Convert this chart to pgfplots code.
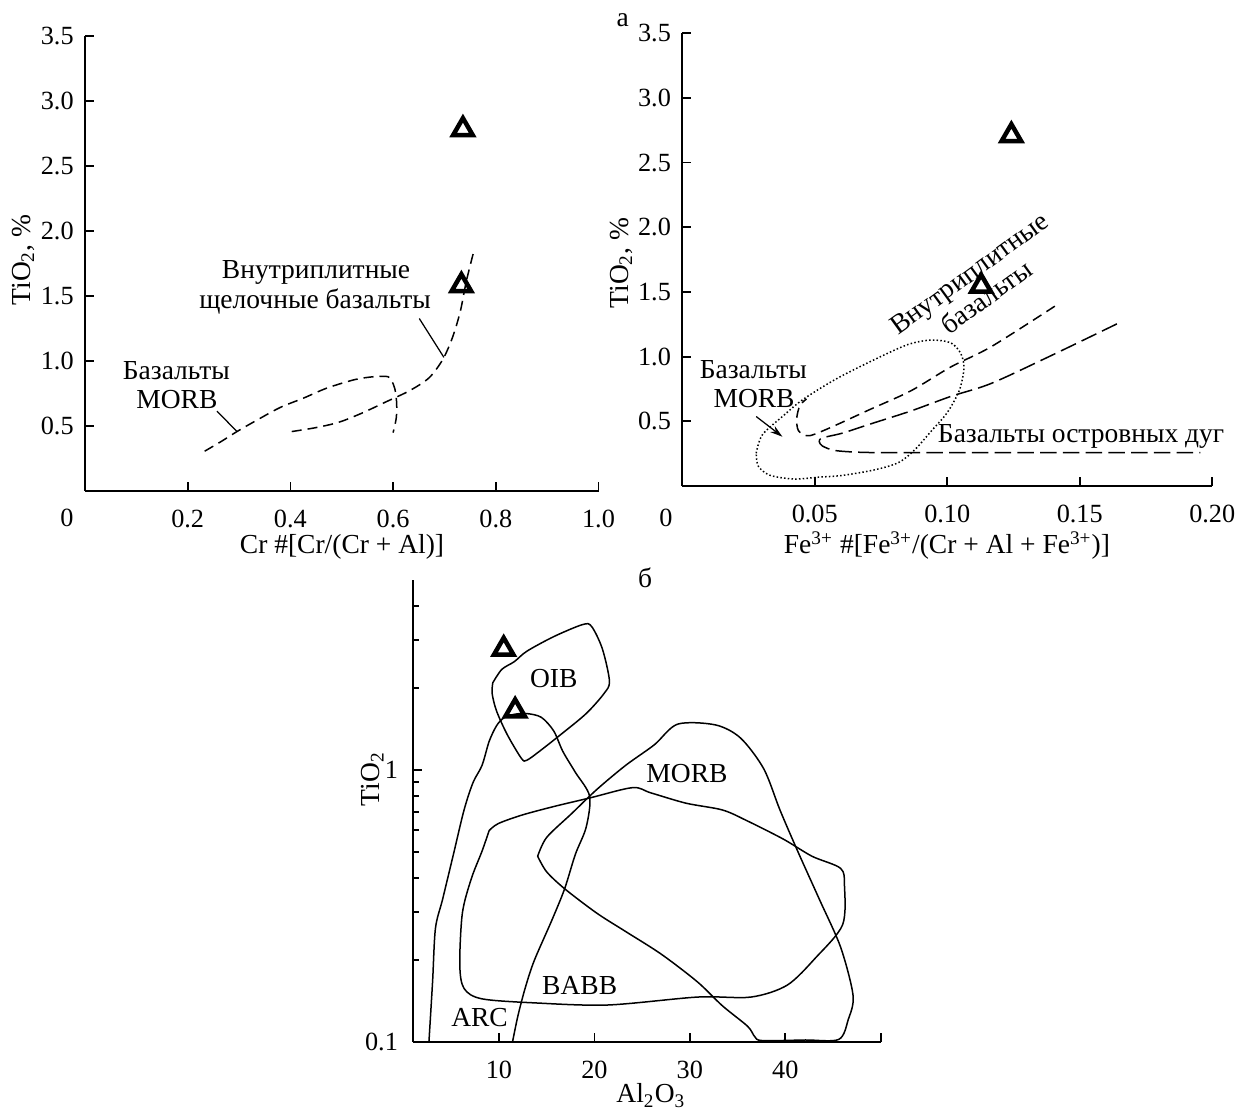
\documentclass[border=0pt]{standalone}
\usepackage{fontspec}
\setmainfont{Liberation Serif}
\usepackage{pgfplots}
\pgfplotsset{compat=1.18}
\usetikzlibrary{arrows.meta}

\newcommand\lab{\fontsize{11}{13}\selectfont}

\pgfplotsset{
  panel/.style={
    scale only axis,
    clip mode=individual,
    axis lines=left,
    axis line style={-, line width=0.7pt},
    tick align=inside,
    major tick length=3.4pt,
    minor tick length=2.4pt,
    tick style={black, line width=0.7pt},
    tick label style={font=\fontsize{10.5}{12}\selectfont},
    /pgf/number format/assume math mode=true,
    xticklabel style={yshift=-4pt},
    yticklabel style={xshift=-1pt},
  },
  tri/.style={only marks, mark=triangle, mark size=4.5pt,
    mark options={solid, fill=white, draw=black, line width=1.8pt}},
  shortdash/.style={black, line width=0.6pt, smooth, dash pattern=on 4pt off 2.4pt},
  longdash/.style={black, line width=0.6pt, smooth, dash pattern=on 6.6pt off 2.5pt},
  dots/.style={black, line width=0.6pt, smooth, dash pattern=on 0.6pt off 0.9pt},
  field/.style={black, line width=0.6pt, smooth},
}

\begin{document}
\begin{tikzpicture}
\path[use as bounding box] (0,0) rectangle (496pt,-443.2pt);

% ---------- left top: Cr# ----------
\begin{axis}[panel,
  at={(34pt,-196.4pt)}, anchor=south west,
  width=205.4pt, height=182.1pt,
  xmin=0, xmax=1, ymin=0, ymax=3.5,
  xtick={0.2,0.4,0.6,0.8,1.0}, xticklabels={0.2,0.4,0.6,0.8,1.0},
  ytick={0.5,1,1.5,2,2.5,3,3.5}, yticklabels={0.5,1.0,1.5,2.0,2.5,3.0,3.5},
]
% MORB
\addplot[shortdash] coordinates {
  (0.233,0.306) (0.265,0.380) (0.296,0.457) (0.334,0.543) (0.380,0.642)
  (0.4255,0.714) (0.471,0.791) (0.525,0.856) (0.563,0.879) (0.590,0.879)
  (0.597,0.848) (0.6035,0.785) (0.607,0.671) (0.606,0.557) (0.600,0.449)};
% within-plate alkaline basalts
\addplot[shortdash] coordinates {
  (0.4026,0.457) (0.448,0.486) (0.494,0.528) (0.540,0.600) (0.586,0.685)
  (0.632,0.771) (0.670,0.870) (0.697,1.013) (0.716,1.184) (0.731,1.383)
  (0.7425,1.611) (0.756,1.825)};
% leader lines
\addplot[black, line width=0.5pt] coordinates {(0.257,0.614) (0.296,0.457)};
\addplot[black, line width=0.5pt] coordinates {(0.651,1.326) (0.699,1.027)};
\addplot[tri] coordinates {(0.736,2.78) (0.733,1.58)};
\node[font=\lab] at (axis cs:0.45,1.682) {Внутриплитные};
\node[font=\lab] at (axis cs:0.448,1.454) {щелочные базальты};
\node[font=\lab] at (axis cs:0.178,0.927) {Базальты};
\node[font=\lab] at (axis cs:0.179,0.705) {MORB};
\end{axis}

% ---------- right top: Fe3+# ----------
\begin{axis}[panel,
  at={(272.9pt,-194.4pt)}, anchor=south west,
  width=212pt, height=181.1pt,
  xmin=0, xmax=0.2, ymin=0, ymax=3.5,
  xtick={0.05,0.1,0.15,0.2}, xticklabels={0.05,0.10,0.15,0.20},
  ytick={0.5,1,1.5,2,2.5,3,3.5}, yticklabels={0.5,1.0,1.5,2.0,2.5,3.0,3.5},
]
% MORB field (dotted)
\addplot[dots] coordinates {
  (0.0279,0.253) (0.0302,0.395) (0.0378,0.537) (0.0453,0.665) (0.0575,0.821)
  (0.0711,0.963) (0.0848,1.091) (0.0939,1.128) (0.1014,1.106) (0.1052,1.02)
  (0.1063,0.907) (0.1045,0.736) (0.0999,0.565) (0.0939,0.423) (0.0878,0.281)
  (0.0817,0.182) (0.0726,0.125) (0.0605,0.082) (0.0514,0.068) (0.0423,0.054)
  (0.0332,0.082) (0.0287,0.153) (0.0279,0.253)};
% within-plate basalts
\addplot[shortdash] coordinates {
  (0.1406,1.39) (0.1166,1.077) (0.1014,0.921) (0.0863,0.736) (0.0711,0.594)
  (0.0575,0.466) (0.0499,0.40) (0.0469,0.389) (0.0438,0.429) (0.0432,0.523)
  (0.0444,0.622) (0.0469,0.673)};
% island arc basalts
\addplot[longdash] coordinates {
  (0.164,1.253) (0.139,1.006) (0.1166,0.793) (0.1014,0.693) (0.0863,0.580)
  (0.0711,0.480) (0.0605,0.409) (0.0529,0.372) (0.0517,0.344) (0.0529,0.309)
  (0.0575,0.275) (0.0666,0.261) (0.0787,0.258) (0.1200,0.258) (0.1955,0.258)};
\addplot[black, line width=0.5pt, -{Stealth[length=5pt,width=3pt]}]
  coordinates {(0.0279,0.537) (0.0378,0.381)};
\addplot[tri] coordinates {(0.1242,2.71) (0.1128,1.546)};
\node[font=\fontsize{11}{11.8}\selectfont, rotate=36, align=center, inner sep=0pt]
  at (axis cs:0.1115,1.553) {Внутриплитные\\базальты};
\node[font=\lab] at (axis cs:0.0268,0.898) {Базальты};
\node[font=\lab] at (axis cs:0.0271,0.679) {MORB};
\node[font=\lab] at (axis cs:0.1505,0.381) {Базальты островных дуг};
\end{axis}

% ---------- bottom: Al2O3 - TiO2 ----------
\begin{axis}[panel,
  at={(165.2pt,-416.7pt)}, anchor=south west,
  width=187.1pt, height=184.8pt,
  ymode=log,
  xmin=1, xmax=50, ymin=0.1, ymax=5,
  xtick={10,20,30,40,50}, xticklabels={10,20,30,40,{}},
  ytick={0.1,1}, yticklabels={0.1,1},
  minor ytick={0.2,0.3,0.4,0.5,0.6,0.7,0.8,0.9,2,3,4},
  yticklabel style={xshift=-1.5pt},
]
% OIB
\addplot[field] coordinates {
  (9.36,2.09) (10.30,2.34) (11.62,2.50) (12.93,2.73) (15.75,3.09) (18.76,3.42)
  (19.70,3.37) (20.83,2.79) (21.58,2.12) (21.02,1.91) (19.14,1.61) (16.50,1.35)
  (14.25,1.17) (12.93,1.085) (12.37,1.10) (10.86,1.35) (9.74,1.65) (9.29,1.91)
  (9.36,2.09)};
% ARC
\addplot[field] coordinates {
  (2.67,0.1) (3.05,0.166) (3.35,0.261) (4.10,0.334) (5.23,0.488) (6.35,0.712)
  (7.29,0.898) (8.23,1.038) (8.98,1.273) (9.74,1.45) (10.49,1.55) (11.62,1.60)
  (12.93,1.61) (14.44,1.56) (15.74,1.39) (16.69,1.17) (18.0,0.98) (19.5,0.80)
  (19.14,0.615) (18.0,0.488) (16.88,0.365) (15.56,0.2806) (13.68,0.198)
  (12.74,0.157) (11.99,0.1245) (11.43,0.1)};
% BABB
\addplot[field] coordinates {
  (8.98,0.598) (9.92,0.634) (12.37,0.681) (15.75,0.733) (19.51,0.788) (24.0,0.860)
  (25.9,0.823) (29.6,0.754) (33.4,0.712) (35.9,0.652) (39.8,0.556) (42.8,0.481)
  (45.8,0.434) (46.2,0.375) (46.0,0.269) (43.2,0.204) (40.2,0.1615) (36.4,0.146)
  (30.8,0.146) (21.4,0.1365) (13.87,0.1389) (8.23,0.1438) (6.35,0.157) (5.90,0.192)
  (6.17,0.297) (7.11,0.398) (8.23,0.502) (8.98,0.598)};
% MORB
\addplot[field] coordinates {
  (14.06,0.481) (15.0,0.564) (17.63,0.691) (20.26,0.847) (23.27,1.038) (26.28,1.236)
  (28.72,1.472) (32.67,1.463) (35.3,1.31) (37.74,1.009) (39.44,0.712) (41.3,0.502)
  (43.57,0.334) (45.8,0.2225) (47.1,0.148) (46.6,0.1208) (45.6,0.102) (42.1,0.1015)
  (37.6,0.101) (36.8,0.1044) (36.05,0.114) (33.4,0.1357) (30.8,0.166) (27.0,0.210)
  (23.3,0.254) (20.26,0.297) (16.9,0.365) (15.0,0.4217) (14.06,0.481)};
\addplot[tri] coordinates {(10.5,2.78) (11.7,1.65)};
\node[font=\lab] at (axis cs:15.75,2.16) {OIB};
\node[font=\lab] at (axis cs:29.7,0.966) {MORB};
\node[font=\lab] at (axis cs:18.46,0.1607) {BABB};
\node[font=\lab] at (axis cs:7.97,0.1226) {ARC};
\end{axis}

% ---------- outer labels ----------
\node[font=\lab] at (249.1pt,-8pt) {а};
\node[font=\lab] at (258pt,-231.2pt) {б};
\node[font=\fontsize{10.5}{12}\selectfont] at (26.8pt,-207.2pt) {0};
\node[font=\fontsize{10.5}{12}\selectfont] at (266.4pt,-207.2pt) {0};
\node[font=\lab, rotate=90] at (9.2pt,-104pt) {TiO\textsubscript{2}, \%};
\node[font=\lab, rotate=90] at (248.4pt,-105.2pt) {TiO\textsubscript{2}, \%};
\node[font=\lab, anchor=base] at (136.8pt,-221.6pt) {Cr \#[Cr/(Cr + Al)]};
\node[font=\lab, anchor=base] at (378.8pt,-221.6pt) {Fe\textsuperscript{3+} \#[Fe\textsuperscript{3+}/(Cr + Al + Fe\textsuperscript{3+})]};
\node[font=\lab, rotate=90] at (149pt,-311.6pt) {TiO\textsubscript{2}};
\node[font=\lab, anchor=base] at (260.4pt,-441.2pt) {Al\textsubscript{2}O\textsubscript{3}};
\end{tikzpicture}
\end{document}
